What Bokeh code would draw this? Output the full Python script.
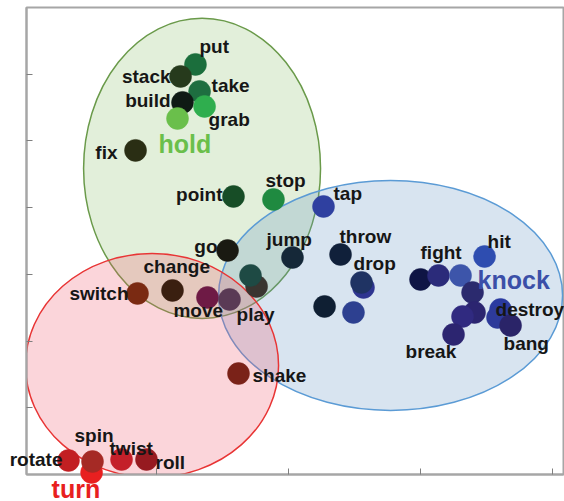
from bokeh.plotting import figure
from bokeh.models import ColumnDataSource, FixedTicker, Range1d
from bokeh.core.properties import value
from bokeh.embed import file_html
from bokeh.resources import INLINE

# ---- data (2-D semantic space coordinates) ----
words = ["put", "stack", "take", "build", "grab", "hold", "fix", "point", "stop", "go",
         "jump", "tap", "throw", "", "drop", "", "", "fight", "", "knock", "hit", "",
         "", "", "break", "destroy", "", "bang", "switch", "change", "move", "play",
         "", "", "shake", "rotate", "turn", "spin", "twist", "roll"]
xs = [1.295, 1.182, 1.326, 1.197, 1.364, 1.159, 0.841, 1.583, 1.886, 1.538,
      2.030, 2.265, 2.394, 2.568, 2.553, 2.273, 2.492, 3.000, 3.136, 3.303, 3.485, 3.394,
      3.409, 3.318, 3.250, 3.606, 3.583, 3.682, 0.856, 1.121, 1.386, 1.553,
      1.758, 1.712, 1.621, 0.333, 0.508, 0.515, 0.735, 0.924]
ys = [6.147, 5.967, 5.742, 5.577, 5.517, 5.337, 4.858, 4.168, 4.123, 3.358,
      3.253, 4.018, 3.298, 2.804, 2.879, 2.519, 2.429, 2.924, 2.984, 2.984, 3.268, 2.729,
      2.429, 2.369, 2.099, 2.474, 2.354, 2.234, 2.714, 2.759, 2.654, 2.624,
      2.819, 2.984, 1.514, 0.210, 0.030, 0.195, 0.225, 0.225]

group_names = ["hold", "knock", "turn"]
group_cx = [1.345, 2.773, 0.966]
group_cy = [4.588, 2.684, 1.634]
group_w = [1.795, 2.606, 1.917]
group_h = [4.498, 3.448, 3.358]

x_ticks = [1, 2, 3, 4]
y_ticks = [1, 2, 3, 4, 5, 6]

# ---- styles ----
point_colors = ["#1b6e3c", "#263a1c", "#1e6e40", "#0f1a14", "#2fae4e", "#6abf4b", "#2a2e14",
                "#174d26", "#1f8a40", "#1a1a12",
                "#152838", "#2f40a0", "#10203a", "#2e3590", "#1f3363", "#0f1f33", "#2d4090",
                "#0f1545", "#2b2b7a", "#3d55aa", "#2e4db0", "#2b2a6e",
                "#2b2570", "#302a80", "#2c2570", "#2a3aa0", "#2d3a9a", "#2a2468",
                "#7a2a12", "#3a1f10", "#6e1a45", "#5a3a55",
                "#3a3530", "#1e4a44", "#7a2218", "#c21f22", "#e82020", "#a52a25", "#c4202a", "#961a20"]

# label placement (screen px offset of the text baseline from the point: right, up; alignment)
label_pos = {
    "put": (4, 11, "left"), "take": (12, -1, "left"), "grab": (4, -20, "left"),
    "hold": (-19, -34, "left"), "stop": (-8, 12, "left"), "jump": (-26, 12, "left"),
    "tap": (10, 6, "left"), "throw": (-1, 12, "left"), "drop": (-8, 12, "left"),
    "fight": (0, 20, "left"), "hit": (3, 9, "left"), "knock": (17, -13, "left"),
    "destroy": (-5, -7, "left"), "bang": (-7, -24, "left"), "break": (-48, -23, "left"),
    "change": (-29, 17, "left"), "move": (-34, -20, "left"), "play": (7, -22, "left"),
    "shake": (14, -8, "left"), "spin": (-18, 20, "left"), "twist": (-12, 5, "left"),
    "roll": (9, -9, "left"), "turn": (-40, -25, "left"),
    "stack": (-10, -7, "right"), "build": (-12, -5, "right"), "fix": (-18, -9, "right"),
    "point": (-11, -5, "right"), "go": (-10, -2, "right"), "switch": (-9, -7, "right"),
    "rotate": (-6, -5, "right"),
}
group_label_color = {"hold": "#6abf4b", "knock": "#3b4fa8", "turn": "#e8201e"}
ell_fill = ["#8bbf6b", "#6595c5", "#ef576b"]
ell_line = ["#6a9a4a", "#5b9bd5", "#e83535"]
word_px, group_px = 19, 25
baseline_lift = 0.34   # renderer places the anchor near the text's middle

p = figure(width=564, height=501,
           x_range=Range1d(0.015, 4.083), y_range=Range1d(0, 7.0),
           output_backend="svg", toolbar_location=None,
           min_border_left=26, min_border_right=1, min_border_top=7, min_border_bottom=27)
p.grid.visible = False
p.outline_line_color = "#a6a6a6"
p.outline_line_width = 2
p.background_fill_color = "white"
p.border_fill_color = "white"

for ax, ticks in ((p.xaxis, x_ticks), (p.yaxis, y_ticks)):
    ax.ticker = FixedTicker(ticks=ticks)
    ax.axis_line_color = "#a6a6a6"
    ax.axis_line_width = 2
    ax.major_tick_in = 6
    ax.major_tick_out = 0
    ax.major_tick_line_color = "#7f7f7f"
    ax.minor_tick_line_color = None
    ax.major_label_overrides = {t: "" for t in ticks}
    ax.major_label_standoff = 0

# ellipses
esrc = ColumnDataSource(dict(x=group_cx, y=group_cy, w=group_w, h=group_h,
                             fill=ell_fill, line=ell_line))
p.ellipse(x="x", y="y", width="w", height="h", source=esrc,
          fill_color="fill", fill_alpha=0.25, line_color="line", line_width=1.5)

# points
psrc = ColumnDataSource(dict(x=xs, y=ys, c=point_colors))
p.scatter(x="x", y="y", source=psrc, size=22, fill_color="c", line_color="c",
          line_width=0.5, level="overlay")

# labels (text glyph, drawn above points)
lx, ly, lt, ldx, ldy, lal, lcol, lsize = [], [], [], [], [], [], [], []
for w, x, y in zip(words, xs, ys):
    if not w:
        continue
    dx, dy, al = label_pos[w]
    fpx = group_px if w in group_names else word_px
    lx.append(x); ly.append(y); lt.append(w)
    ldx.append(dx); ldy.append(-(dy + baseline_lift * fpx)); lal.append(al)
    lcol.append(group_label_color.get(w, "#161616"))
    lsize.append(f"{fpx}px")
lsrc = ColumnDataSource(dict(x=lx, y=ly, t=lt, dx=ldx, dy=ldy, al=lal, col=lcol, fs=lsize))
p.text(x="x", y="y", text="t", x_offset="dx", y_offset="dy", source=lsrc,
       text_align="al", text_baseline="alphabetic", text_color="col",
       text_font_size="fs", text_font=value("Liberation Sans"),
       text_font_style="bold", level="overlay")

open("out.html", "w").write(file_html(p, INLINE))
